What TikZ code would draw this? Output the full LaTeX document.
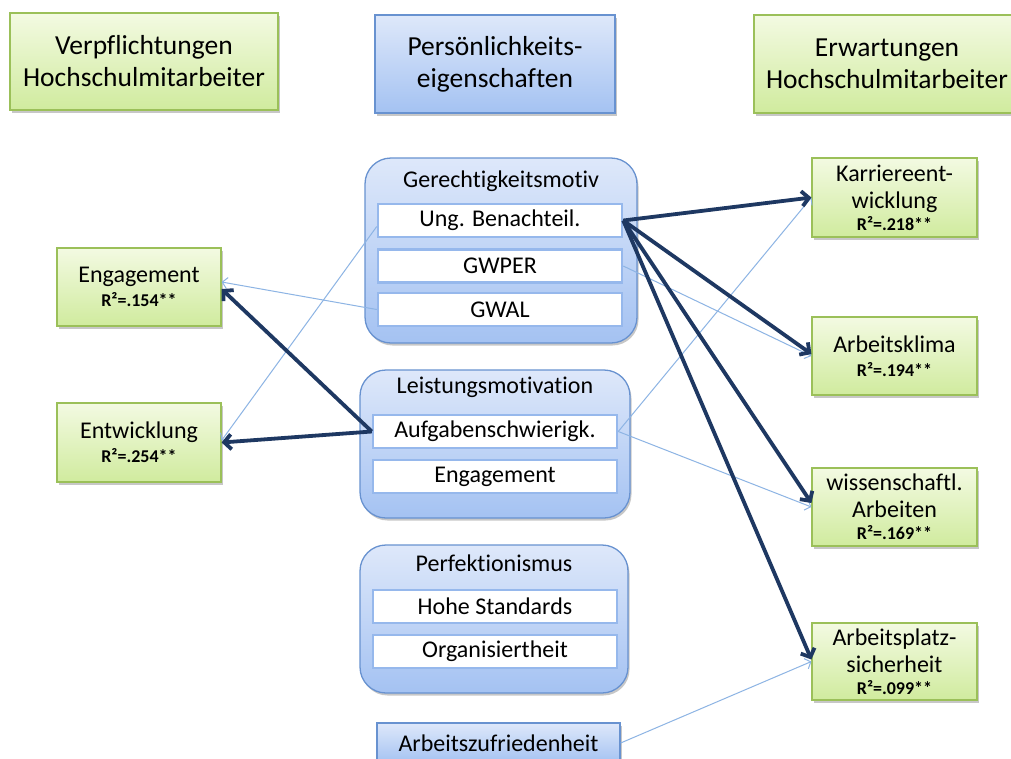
\documentclass[tikz,border=0pt]{standalone}
\usepackage{fontspec}
\setmainfont{Carlito}[Ligatures=NoCommon]
\usetikzlibrary{arrows.meta,shadows}
\definecolor{grnB}{RGB}{155,192,89}
\definecolor{grnT}{RGB}{243,250,226}
\definecolor{grnD}{RGB}{208,235,158}
\definecolor{bluB}{RGB}{104,146,208}
\definecolor{bluT}{RGB}{222,232,250}
\definecolor{bluD}{RGB}{164,194,242}
\definecolor{inB}{RGB}{150,184,236}
\definecolor{navy}{RGB}{30,56,98}
\definecolor{lite}{RGB}{141,180,228}
\newcommand\hdrfont{\fontsize{27.5}{32}\selectfont}
\newcommand\bxfont{\fontsize{24}{27}\selectfont}
\newcommand\rsqfont{\fontsize{18}{20}\selectfont\bfseries}
\tikzset{
  shad/.style={drop shadow={shadow xshift=1.5pt,shadow yshift=-2.5pt,opacity=0.22,fill=black}},
  greenbox/.style={draw=grnB,line width=1.2pt,top color=grnT,bottom color=grnD,shad,inner sep=0pt,align=center,font=\bxfont},
  headgreen/.style={greenbox,font=\hdrfont},
  bluebox/.style={draw=bluB,line width=1.2pt,top color=bluT,bottom color=bluD,shad,inner sep=0pt,align=center},
  container/.style={draw=bluB,line width=1.3pt,top color=bluT,bottom color=bluD,shad,rounded corners=26pt,inner sep=0pt},
  title/.style={font=\bxfont,inner sep=0pt},
  inbox/.style={draw=inB,line width=2.5pt,fill=white,minimum width=244pt,minimum height=33pt,inner sep=0pt,font=\bxfont},
  dk/.style={draw=navy,line width=3.8pt,-{Straight Barb[length=7pt,width=15pt]}},
  lt/.style={draw=lite,line width=1pt,-{Straight Barb[length=5pt,width=11pt]}}
}
\begin{document}
\begin{tikzpicture}[x=1pt,y=-1pt]
\useasboundingbox (0,0) rectangle (1011,758);
\fill[white] (0,0) rectangle (1011,758);
\clip (0,0) rectangle (1011,758);

% headers
\node[headgreen,minimum width=268pt,minimum height=97pt] (h1) at (144,61.5) {Verpflichtungen\\Hochschulmitarbeiter};
\node[bluebox,font=\hdrfont,minimum width=240pt,minimum height=98pt] (h2) at (495,64) {Persönlichkeits-\\eigenschaften};
\node[headgreen,minimum width=266pt,minimum height=98pt] (h3) at (887,64) {Erwartungen\\Hochschulmitarbeiter};

% containers
\node[container,minimum width=272pt,minimum height=185pt] (cg) at (501,250.5) {};
\node[title] (cgt) at (501,181) {Gerechtigkeitsmotiv};
\node[inbox] (ung) at (500,220.5) {Ung. Benachteil.};
\node[inbox] (gwper) at (500,266) {GWPER};
\node[inbox] (gwal) at (500,309.5) {GWAL};

\node[container,minimum width=270pt,minimum height=148pt] (cl) at (495,444) {};
\node[title] (clt) at (495,387.5) {Leistungsmotivation};
\node[inbox] (aufg) at (495,431.5) {Aufgabenschwierigk.};
\node[inbox] (leng) at (495,476.5) {Engagement};

\node[container,minimum width=268pt,minimum height=148pt] (cp) at (494,619) {};
\node[title] (cpt) at (494,563) {Perfektionismus};
\node[inbox] (hohe) at (495,606.5) {Hohe Standards};
\node[inbox] (org) at (495,651.5) {Organisiertheit};

\node[bluebox,font=\bxfont,minimum width=243pt,minimum height=40pt] (azf) at (498.5,743) {Arbeitszufriedenheit};

% left outcomes
\node[greenbox,minimum width=164pt,minimum height=78pt] (eng) at (139,287) {Engagement\\[-3pt]{\rsqfont R²=.154**}};
\node[greenbox,minimum width=164pt,minimum height=79pt] (entw) at (139,442.5) {Entwicklung\\[-3pt]{\rsqfont R²=.254**}};

% right outcomes
\node[greenbox,minimum width=165pt,minimum height=79pt] (karr) at (894.5,197.5) {Karriereent-\\wicklung\\[-5pt]{\rsqfont R²=.218**}};
\node[greenbox,minimum width=165pt,minimum height=78pt] (klima) at (894.5,356) {Arbeitsklima\\[-3pt]{\rsqfont R²=.194**}};
\node[greenbox,minimum width=165pt,minimum height=78pt] (wiss) at (894.5,507) {wissenschaftl.\\Arbeiten\\[-5pt]{\rsqfont R²=.169**}};
\node[greenbox,minimum width=165pt,minimum height=77pt] (aps) at (894.5,661.5) {Arbeitsplatz-\\sicherheit\\[-5pt]{\rsqfont R²=.099**}};

% light connectors
\draw[lt] ([yshift=-6pt]ung.west) -- ([yshift=2pt]entw.east);
\draw[lt] (gwal.west) -- ([yshift=5pt]eng.east);
\draw[lt] (gwper.east) -- (klima.west);
\draw[lt] (aufg.east) -- (karr.west);
\draw[lt] (aufg.east) -- (wiss.west);
\draw[lt] (azf.east) -- (aps.west);

% dark connectors
\draw[dk] (ung.east) -- (karr.west);
\draw[dk] (ung.east) -- ([yshift=2pt]klima.west);
\draw[dk] (ung.east) -- ([yshift=4pt]wiss.west);
\draw[dk] (ung.east) -- ([yshift=2pt]aps.west);
\draw[dk] (aufg.west) -- ([yshift=-2pt]eng.east);
\draw[dk] (aufg.west) -- (entw.east);
\end{tikzpicture}
\end{document}
